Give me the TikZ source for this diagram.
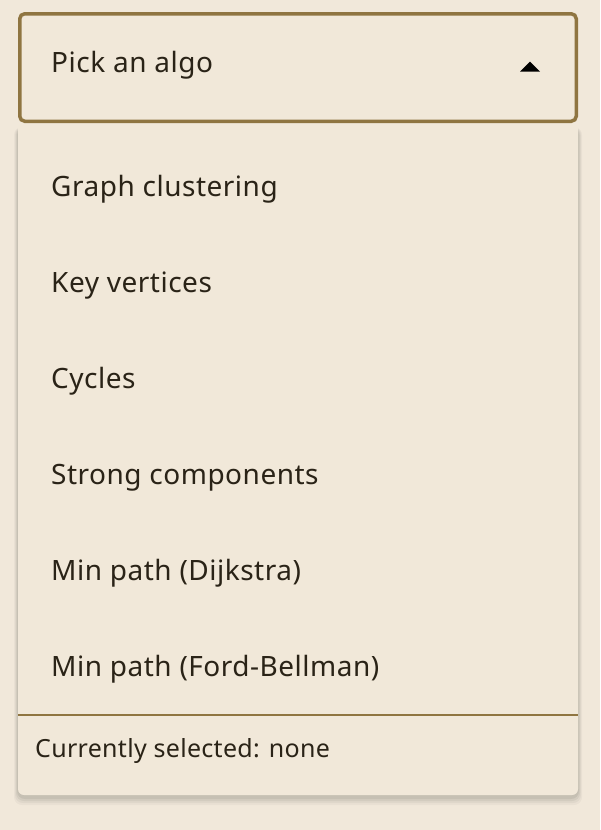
\documentclass[tikz,border=0pt]{standalone}
\usepackage{fontspec}
\setmainfont{Noto Sans}
\newfontfamily\uifont{Noto Sans}[LetterSpace=1.8]
\newfontfamily\uismallfont{Noto Sans}[LetterSpace=1.2]
\usetikzlibrary{positioning}
\definecolor{pagebg}{HTML}{F1E8DA}
\definecolor{panelbg}{HTML}{F1E8D9}
\definecolor{goldline}{HTML}{8F7541}
\definecolor{inktext}{HTML}{2A2317}
\tikzset{
  itemtext/.style={anchor=base west, inner sep=0pt, text=inktext, font=\uifont\fontsize{28}{32}\selectfont},
  smalltext/.style={anchor=base west, inner sep=0pt, text=inktext, font=\uismallfont\fontsize{25}{29}\selectfont},
}
\begin{document}
\begin{tikzpicture}[x=1pt,y=-1pt]
\useasboundingbox (0,0) rectangle (600,830);
\fill[pagebg] (0,0) rectangle (600,830);
% shadow of the panel
\foreach \d/\op in {8/0.03,6/0.04,4/0.05,2/0.06}{
  \fill[black,opacity=\op,rounded corners=8pt] (18-\d/2,127) rectangle (578+\d/2,797+\d);
}
% panel
\fill[panelbg,rounded corners=6pt] (18,125) rectangle (578,795);
\fill[panelbg] (18,125) rectangle (578,135);
% select box
\draw[goldline,line width=3.5pt,fill=panelbg,rounded corners=5pt] (19.75,13.75) rectangle (576.25,121.25);
\node[itemtext] (pick) at (51,72) {Pick an algo};
\fill[black] (530,61.7) -- (540,71.7) -- (520,71.7) -- cycle;
% items
\node[itemtext] (i1) at (51,196.7) {Graph clustering};
\node[itemtext] (i2) at (51,292.7) {Key vertices};
\node[itemtext] (i3) at (51,388.7) {Cycles};
\node[itemtext] (i4) at (51,484.7) {Strong components};
\node[itemtext] (i5) at (51,580.7) {Min path (Dijkstra)};
\node[itemtext] (i6) at (51,676.7) {Min path (Ford-Bellman)};
% separator
\draw[goldline,line width=2pt] (18,715) -- (578,715);
\node[smalltext] (sel) at (35,757) {Currently selected: none};
\end{tikzpicture}
\end{document}
